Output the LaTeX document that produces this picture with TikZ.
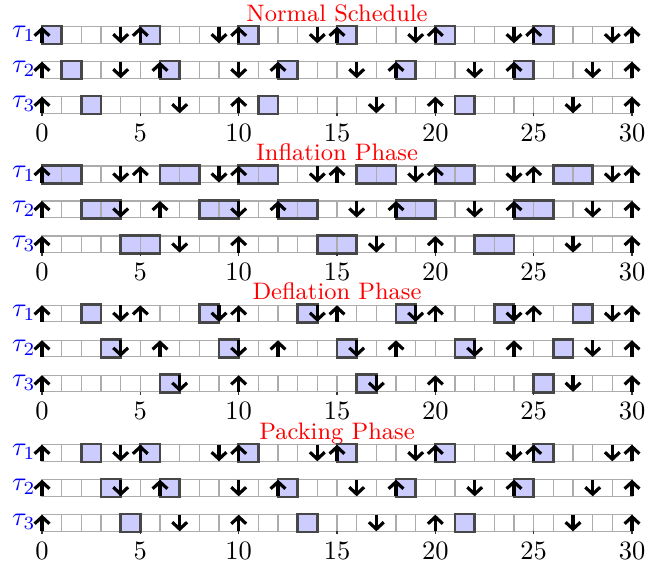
\documentclass[tikz,border=0pt]{standalone}
\usetikzlibrary{arrows.meta}
\tikzset{
  gridline/.style={draw=gray!65, line width=0.4pt},
  jobfill/.style={fill=blue!20},
  jobedge/.style={draw=black!72, line width=1.0pt},
  evarrow/.style={line width=1.2pt, -{Straight Barb[length=2.6pt,width=5.6pt]}},
  tasklabel/.style={text=blue, inner sep=0pt, anchor=base east},
  ticklabel/.style={inner sep=0pt, anchor=base},
  phasetitle/.style={text=red, inner sep=0pt, anchor=base, font=\small},
  axistick/.style={draw=black!80, line width=0.4pt}
}
% #1 = row centre (px), #2 = task index, #3 = jobs start/len, #4 = releases, #5 = deadlines
\newcommand\taskrow[5]{%
  \foreach \s/\d in {#3} {\path[jobfill] (\s,#1-9) rectangle ++(\d,18);}
  \draw[gridline] (0,#1-8.3) rectangle (30,#1+8.3);
  \foreach \i in {1,...,29} {\draw[gridline] (\i,#1-8.3) -- (\i,#1+8.3);}
  \foreach \s/\d in {#3} {\draw[jobedge] (\s,#1-9) rectangle ++(\d,18);}
  \foreach \r in {#4} {\draw[evarrow] (\r,#1+8.3) -- (\r,#1-8.3);}
  \foreach \r in {#5} {\draw[evarrow] (\r,#1-8.3) -- (\r,#1+8.3);}
  \node[tasklabel] (lab#2) at (-0.3,#1+3) {$\tau_#2$};
}
% #1 = panel title, #2 #3 #4 = job lists of tasks 1..3
\newcommand\phasepanel[4]{%
  \node[phasetitle] (title) at (15,21.2) {#1};
  \taskrow{35}{1}{#2}{0,5,10,15,20,25,30}{4,9,14,19,24,29}
  \taskrow{70}{2}{#3}{0,6,12,18,24,30}{4,10,16,22,28}
  \taskrow{105}{3}{#4}{0,10,20,30}{7,17,27}
  \foreach \t in {0,5,...,30} {
    \draw[axistick] (\t,113.3) -- (\t,116.5);
    \node[ticklabel] (tick\t) at (\t,141.3) {\t};
  }
}
\begin{document}
\begin{tikzpicture}[x=0.3774pt,y=-0.3774pt]
\useasboundingbox (0,0) rectangle (670,567);
\begin{scope}[shift={(42,0)},xscale=19.667]
  \phasepanel{Normal Schedule}{0/1,5/1,10/1,15/1,20/1,25/1}{1/1,6/1,12/1,18/1,24/1}{2/1,11/1,21/1}
\end{scope}
\begin{scope}[shift={(42,139.3)},xscale=19.667]
  \phasepanel{Inflation Phase}{0/2,6/2,10/2,16/2,20/2,26/2}{2/2,8/2,12/2,18/2,24/2}{4/2,14/2,22/2}
\end{scope}
\begin{scope}[shift={(42,278.6)},xscale=19.667]
  \phasepanel{Deflation Phase}{2/1,8/1,13/1,18/1,23/1,27/1}{3/1,9/1,15/1,21/1,26/1}{6/1,16/1,25/1}
\end{scope}
\begin{scope}[shift={(42,418)},xscale=19.667]
  \phasepanel{Packing Phase}{2/1,5/1,10/1,15/1,20/1,25/1}{3/1,6/1,12/1,18/1,24/1}{4/1,13/1,21/1}
\end{scope}
\end{tikzpicture}
\end{document}
